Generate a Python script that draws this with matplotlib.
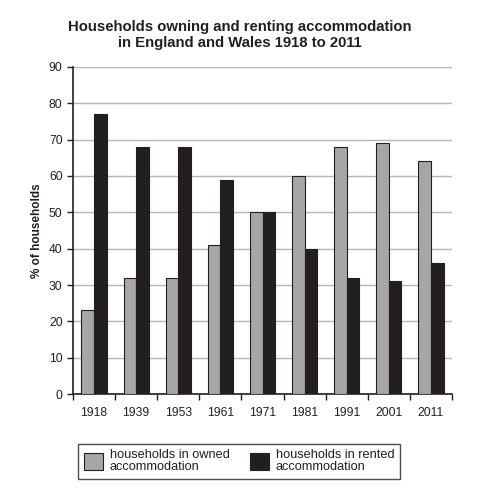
import numpy as np
import matplotlib.pyplot as plt
from matplotlib.ticker import FixedLocator

plt.rcParams['font.family'] = ['Liberation Sans', 'DejaVu Sans']

# Datos
anios = ["1918", "1939", "1953", "1961", "1971", "1981", "1991", "2001", "2011"]
propias = [23, 32, 32, 41, 50, 60, 68, 69, 64]
alquiladas = [77, 68, 68, 59, 50, 40, 32, 31, 36]

fig = plt.figure(figsize=(4.85, 4.98), dpi=100)
ax = fig.add_axes([0.1505, 0.2088, 0.7815, 0.6567])

x = np.arange(len(anios))
ancho = 0.3
ax.bar(x - ancho / 2, propias, ancho, color='#a6a6a6', edgecolor='#231f20',
       linewidth=0.8, label='households in owned\naccommodation', zorder=3)
ax.bar(x + ancho / 2, alquiladas, ancho, color='#231f20', edgecolor='#231f20',
       linewidth=0.8, label='households in rented\naccommodation', zorder=3)

ax.set_xlim(-0.5, len(anios) - 0.5)
ax.set_ylim(0, 90)
ax.set_yticks(range(0, 91, 10))
ax.set_xticks(x)
ax.set_xticklabels(anios)
ax.xaxis.set_minor_locator(FixedLocator(np.arange(-0.5, len(anios), 1)))
ax.tick_params(axis='x', which='major', length=0, pad=9, labelsize=8.7, colors='#231f20')
ax.tick_params(axis='x', which='minor', length=4, width=1, direction='out', color='#231f20')
ax.tick_params(axis='y', length=4, width=1, direction='out', labelsize=8.7, colors='#231f20')
ax.yaxis.grid(True, color='#b5b5b5', linewidth=1, zorder=0)

for lado in ['top', 'right']:
    ax.spines[lado].set_visible(False)
for lado in ['left', 'bottom']:
    ax.spines[lado].set_color('#231f20')
    ax.spines[lado].set_linewidth(1.2)

ax.set_ylabel('% of households', fontsize=8.5, fontweight='bold', color='#231f20', labelpad=4)
fig.text(0.495, 0.930, 'Households owning and renting accommodation\nin England and Wales 1918 to 2011',
         ha='center', va='center', fontsize=10.7, fontweight='bold', color='#231f20', linespacing=1.2)

leg = fig.legend(loc='center', bbox_to_anchor=(0.493, 0.074), ncol=2, fontsize=9.2,
                 frameon=True, fancybox=False, edgecolor='#231f20', handlelength=1.5,
                 handleheight=1.7, handletextpad=0.5, columnspacing=1.6, borderpad=0.45,
                 labelspacing=0.2)
leg.get_frame().set_linewidth(1)
for t in leg.get_texts():
    t.set_linespacing(0.95)
    t.set_color('#231f20')

fig.savefig('out.png', dpi=100)
